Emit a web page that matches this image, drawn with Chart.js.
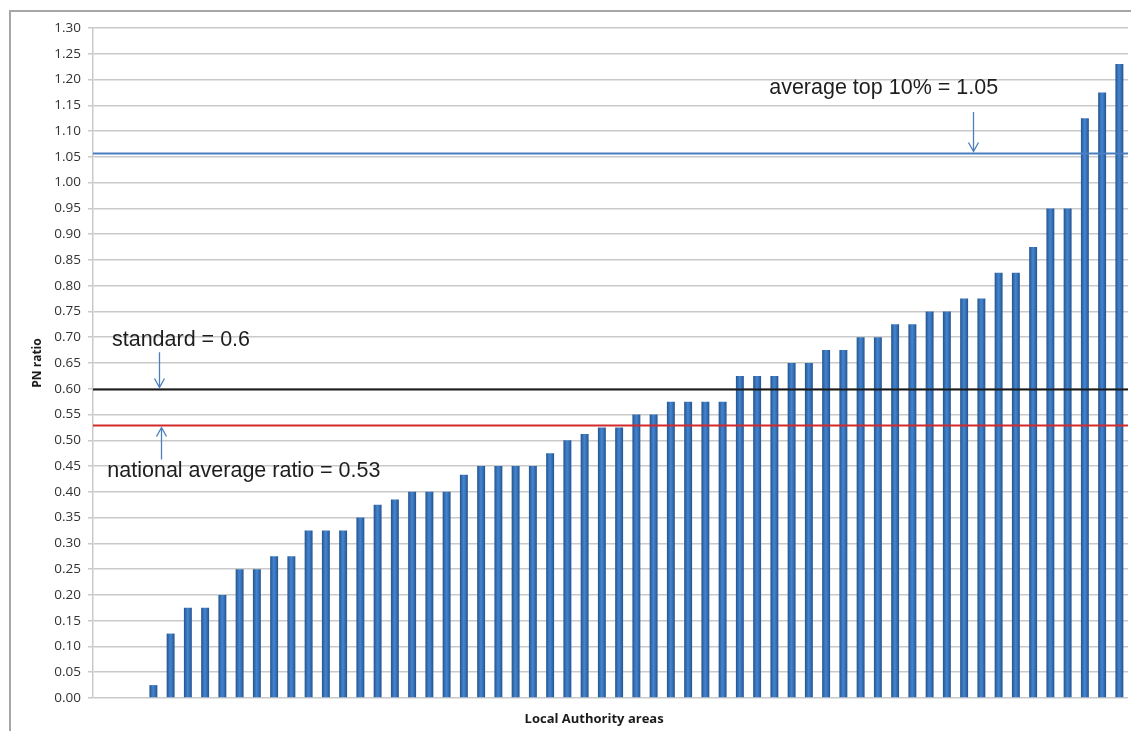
<!DOCTYPE html>
<html>
<head>
<meta charset="utf-8">
<script src="https://cdn.jsdelivr.net/npm/chart.js@4/dist/chart.umd.min.js"></script>
<style>
    html, body { margin: 0; padding: 0; background: #fff; overflow: hidden; }
    #wrap { position: relative; width: 1131px; height: 731px; }
    #frame {
        position: absolute; left: 9px; top: 10px; width: 1140px; height: 740px;
        border: 2px solid #a6a6a6; box-sizing: border-box; pointer-events: none;
    }
    canvas { position: absolute; left: 0; top: 0; }
</style>
</head>
<body>
<div id="wrap">
    <canvas id="pnChart" width="1131" height="731"></canvas>
    <div id="frame"></div>
</div>
<script>
// ---- data ----
const areas = Array.from({ length: 60 }, (_, i) => 'LA ' + (i + 1));
const pnRatio = [
    0, 0, 0,
    0.025, 0.125, 0.175, 0.175, 0.20, 0.25, 0.25, 0.275, 0.275, 0.325,
    0.325, 0.325, 0.35, 0.375, 0.385, 0.40, 0.40, 0.40, 0.433, 0.45,
    0.45, 0.45, 0.45, 0.475, 0.50, 0.512, 0.525, 0.525, 0.55, 0.55,
    0.575, 0.575, 0.575, 0.575, 0.625, 0.625, 0.625, 0.65, 0.65, 0.675,
    0.675, 0.70, 0.70, 0.725, 0.725, 0.75, 0.75, 0.775, 0.775, 0.825,
    0.825, 0.875, 0.95, 0.95, 1.125, 1.175, 1.23
];
const refNames = ['average top 10%', 'standard', 'national average ratio'];
const refValues = [1.058, 0.60, 0.53];
const refLabels = ['average top 10% = 1.05', 'standard = 0.6', 'national average ratio = 0.53'];
const refColors = ['#4a7ebf', '#1a1a1a', '#d42a2a'];

// label placement in data units: [category index of text left, y value of text middle]
const labelPos = [[38.7, 1.183], [0.6, 0.694], [0.33, 0.44]];
// arrow: [category index, y value of tail]
const arrowPos = [[50.5, 1.137], [3.3, 0.671], [3.45, 0.463]];
const xTitle = 'Local Authority areas';

/* ===============================
   Reference lines + notes
================================ */
const refLinesPlugin = {
    id: 'refLines',
    afterDatasetsDraw(chart) {
        const { ctx, chartArea, scales: { x, y } } = chart;
        ctx.save();
        refValues.forEach((v, i) => {
            const py = Math.round(y.getPixelForValue(v)) + 0.5;
            ctx.strokeStyle = refColors[i];
            ctx.lineWidth = 2;
            ctx.beginPath();
            ctx.moveTo(chartArea.left, py);
            ctx.lineTo(chartArea.right, py);
            ctx.stroke();

            // text
            ctx.fillStyle = '#1e1e1e';
            ctx.font = '21.5px "Liberation Sans", Arial, sans-serif';
            ctx.textBaseline = 'middle';
            ctx.textAlign = 'left';
            ctx.fillText(refLabels[i], x.getPixelForValue(labelPos[i][0]), y.getPixelForValue(labelPos[i][1]));

            // arrow
            const ax = Math.round(x.getPixelForValue(arrowPos[i][0])) + 0.5;
            const tail = y.getPixelForValue(arrowPos[i][1]);
            const tip = py + (tail < py ? -2 : 2);
            const dir = tail < py ? 1 : -1;
            ctx.strokeStyle = '#4a7ebf';
            ctx.lineWidth = 1.3;
            ctx.beginPath();
            ctx.moveTo(ax, tail);
            ctx.lineTo(ax, tip);
            ctx.moveTo(ax - 5, tip - dir * 9);
            ctx.lineTo(ax, tip);
            ctx.lineTo(ax + 5, tip - dir * 9);
            ctx.stroke();
        });

        // x axis title (sits a little left of centre in the original)
        ctx.fillStyle = '#1a1a1a';
        ctx.font = 'bold 13px "Open Sans", sans-serif';
        ctx.textAlign = 'center';
        ctx.textBaseline = 'middle';
        ctx.fillText(xTitle, x.getPixelForValue(28.55), chart.height - 12);
        ctx.restore();
    }
};

function barFill(c) {
    const sx = c.chart.scales.x;
    if (!sx || !c.chart.chartArea) return '#3a77c0';
    const cx = sx.getPixelForValue(c.dataIndex);
    const g = c.chart.ctx.createLinearGradient(cx - 4, 0, cx + 4, 0);
    g.addColorStop(0, '#24538c');
    g.addColorStop(0.45, '#4384cf');
    g.addColorStop(0.6, '#3d7cc6');
    g.addColorStop(1, '#24538c');
    return g;
}

const ctx = document.getElementById('pnChart');
new Chart(ctx, {
    type: 'bar',
    data: {
        labels: areas,
        datasets: [{
            label: 'PN ratio',
            data: pnRatio,
            backgroundColor: barFill,
            borderWidth: 0,
            categoryPercentage: 1,
            barPercentage: 0.46
        }]
    },
    options: {
        responsive: false,
        animation: false,
        events: [],
        layout: { padding: { top: 28, right: 3, left: 0, bottom: 0 } },
        plugins: { legend: { display: false }, tooltip: { enabled: false } },
        scales: {
            x: {
                grid: { display: false },
                border: { display: false },
                ticks: { display: false },
                afterFit: s => { s.height = 33; }
            },
            y: {
                min: 0,
                max: 1.3,
                grid: { color: '#c9c9c9', lineWidth: 1.5, tickLength: 5 },
                border: { color: '#c9c9c9', width: 1.5 },
                ticks: {
                    stepSize: 0.05,
                    padding: 7,
                    color: '#333',
                    font: { family: '"Open Sans", sans-serif', size: 13.5 },
                    callback: v => v.toFixed(2)
                },
                title: {
                    display: true,
                    text: 'PN ratio',
                    color: '#1a1a1a',
                    font: { family: '"Open Sans", sans-serif', size: 12, weight: 'bold' },
                    padding: { top: 30, bottom: 0 }
                },
                afterFit: s => { s.width = 93; }
            }
        }
    },
    plugins: [refLinesPlugin]
});
</script>
</body>
</html>
